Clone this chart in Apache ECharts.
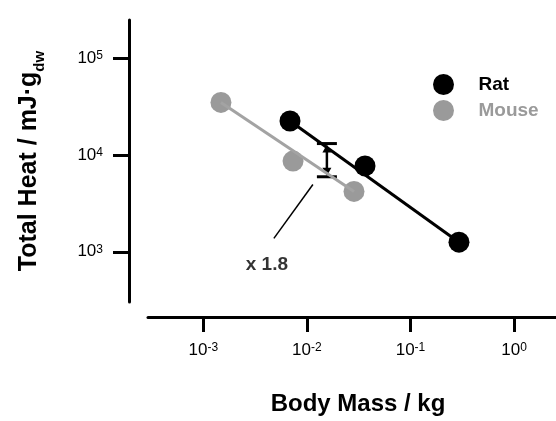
<!DOCTYPE html>
<html>
<head>
<meta charset="utf-8">
<script src="https://cdn.jsdelivr.net/npm/echarts@6/dist/echarts.min.js"></script>
<style>
  html, body { margin: 0; padding: 0; background: #fff; }
  #chart { width: 556px; height: 421px; }
</style>
</head>
<body>
<div id="chart"></div>
<script>
// values (kg, mJ/g dw)
var ratMass = [0.00687, 0.0364, 0.294];
var ratHeat = [22600, 7740, 1257];
var mouseMass = [0.00148, 0.00735, 0.0285];
var mouseHeat = [35200, 8690, 4220];

// fitted lines (end points)
var ratFitMass = [0.00687, 0.294];
var ratFitHeat = [22600, 1257];
var mouseFitMass = [0.00148, 0.0285];
var mouseFitHeat = [35200, 4220];

// ratio bracket and its callout
var bracketMass = 0.0156;
var bracketHeat = [13200, 5980];
var calloutMass = [0.01143, 0.0048];
var calloutHeat = [4970, 1377];
var calloutTextAt = [0.00411, 740];
var calloutText = 'x 1.8';

// decades shown on the axes (powers of ten)
var xTickExp = [-3, -2, -1, 0];
var yTickExp = [3, 4, 5];

var L = function (v) { return Math.log10(v); };
function pairs(xs, ys) {
  return xs.map(function (x, i) { return [L(x), L(ys[i])]; });
}

var powLabel = {
  formatter: function (v) { return '{b|10}{s|' + Math.round(v) + '}'; },
  rich: {
    b: { fontSize: 17, lineHeight: 17, padding: [6, 0, 6, 0], color: '#000' },
    s: { fontSize: 12, lineHeight: 12, verticalAlign: 'top', color: '#000' }
  }
};

var myChart = echarts.init(document.getElementById('chart'));

var option = {
  animation: false,
  textStyle: { fontFamily: 'Liberation Sans, Arial, sans-serif' },
  legend: {
    data: [
      { name: 'Rat', textStyle: { color: '#000' } },
      { name: 'Mouse', textStyle: { color: '#9a9a9a' } }
    ],
    orient: 'vertical',
    left: 428,
    top: 69,
    itemWidth: 60,
    itemHeight: 21,
    itemGap: 5,
    selectedMode: false,
    textStyle: { fontSize: 19, fontWeight: 'bold' }
  },
  grid: { left: 148, right: 0, top: 20, bottom: 113 },
  xAxis: {
    type: 'value',
    min: -3.534,
    max: 0.405,
    offset: 15,
    name: 'Body Mass / kg',
    nameLocation: 'middle',
    nameGap: 75,
    nameTextStyle: { fontSize: 24, fontWeight: 'bold', color: '#000', padding: [0, 0, 0, 12] },
    axisLine: { onZero: false, lineStyle: { color: '#000', width: 3 } },
    axisTick: { length: 15, lineStyle: { color: '#000', width: 3 }, customValues: xTickExp },
    axisLabel: {
      customValues: xTickExp,
      margin: 25,
      formatter: powLabel.formatter,
      rich: powLabel.rich
    },
    splitLine: { show: false }
  },
  yAxis: {
    type: 'value',
    min: 2.48,
    max: 5.4,
    offset: 19,
    name: '{a|Total Heat / mJ·g}{d|dw}',
    nameLocation: 'middle',
    nameRotate: 90,
    nameGap: 82,
    nameTextStyle: {
      color: '#000',
      rich: {
        a: { fontSize: 25, lineHeight: 25, fontWeight: 'bold', color: '#000', padding: [0, 0, 11, 0] },
        d: { fontSize: 15, lineHeight: 15, fontWeight: 'bold', color: '#000', verticalAlign: 'bottom' }
      }
    },
    axisLine: { onZero: false, lineStyle: { color: '#000', width: 3 } },
    axisTick: { length: 16, lineStyle: { color: '#000', width: 3 }, customValues: yTickExp },
    axisLabel: {
      customValues: yTickExp,
      margin: 26,
      formatter: powLabel.formatter,
      rich: powLabel.rich
    },
    splitLine: { show: false }
  },
  series: [{
    name: 'Rat fit',
    type: 'line',
    silent: true,
    showSymbol: false,
    symbol: 'none',
    lineStyle: { color: '#000', width: 3 },
    data: pairs(ratFitMass, ratFitHeat)
  }, {
    name: 'Mouse fit',
    type: 'line',
    silent: true,
    showSymbol: false,
    symbol: 'none',
    lineStyle: { color: '#a3a3a3', width: 3 },
    data: pairs(mouseFitMass, mouseFitHeat)
  }, {
    name: 'Mouse',
    type: 'scatter',
    symbol: 'circle',
    symbolSize: 21,
    itemStyle: { color: '#9a9a9a', opacity: 1 },
    data: pairs(mouseMass, mouseHeat)
  }, {
    name: 'Rat',
    type: 'scatter',
    symbol: 'circle',
    symbolSize: 21,
    itemStyle: { color: '#000', opacity: 1 },
    data: pairs(ratMass, ratHeat)
  }, {
    name: 'ratio',
    type: 'custom',
    silent: true,
    encode: { x: 0, y: [1, 2] },
    data: [[L(bracketMass), L(bracketHeat[0]), L(bracketHeat[1])]],
    renderItem: function (params, api) {
      var top = api.coord([api.value(0), api.value(1)]);
      var bot = api.coord([api.value(0), api.value(2)]);
      var cx = top[0], cap = 10, ah = 9, aw = 4.5;
      return {
        type: 'group',
        children: [
          { type: 'line', shape: { x1: cx, y1: top[1] + ah - 1, x2: cx, y2: bot[1] - ah + 1 }, style: { stroke: '#000', lineWidth: 2.5 } },
          { type: 'line', shape: { x1: cx - cap, y1: top[1], x2: cx + cap, y2: top[1] }, style: { stroke: '#000', lineWidth: 3 } },
          { type: 'line', shape: { x1: cx - cap, y1: bot[1], x2: cx + cap, y2: bot[1] }, style: { stroke: '#000', lineWidth: 3 } },
          { type: 'polygon', shape: { points: [[cx, top[1] + 1], [cx - aw, top[1] + ah], [cx + aw, top[1] + ah]] }, style: { fill: '#000' } },
          { type: 'polygon', shape: { points: [[cx, bot[1] - 1], [cx - aw, bot[1] - ah], [cx + aw, bot[1] - ah]] }, style: { fill: '#000' } }
        ]
      };
    }
  }, {
    name: 'callout',
    type: 'line',
    silent: true,
    showSymbol: false,
    symbol: 'none',
    lineStyle: { color: '#000', width: 1.5 },
    data: pairs(calloutMass, calloutHeat)
  }, {
    name: 'callout text',
    type: 'scatter',
    silent: true,
    symbolSize: 1,
    itemStyle: { color: 'transparent' },
    label: {
      show: true,
      position: 'inside',
      formatter: calloutText,
      color: '#000',
      fontSize: 19,
      fontWeight: 'bold'
    },
    data: [[L(calloutTextAt[0]), L(calloutTextAt[1])]]
  }]
};

myChart.setOption(option);
window.addEventListener('resize', function () {
  myChart.resize();
});
</script>
</body>
</html>
